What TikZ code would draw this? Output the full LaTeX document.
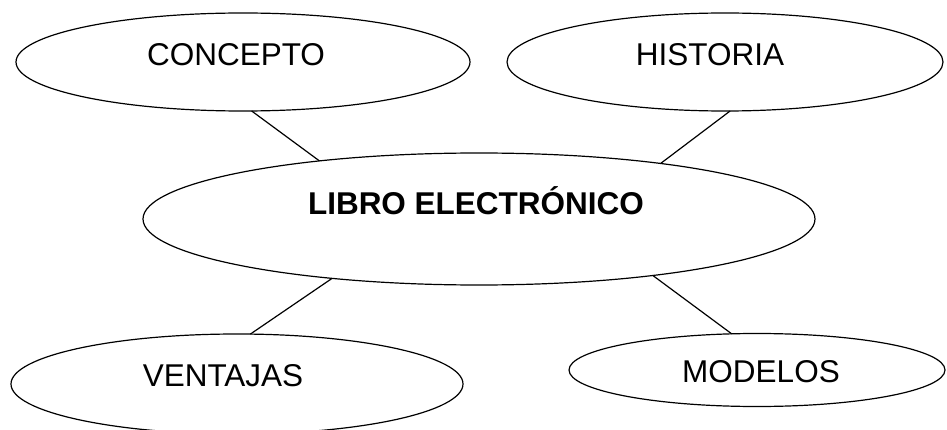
\documentclass[tikz,border=0pt]{standalone}
\usepackage{fontspec}
\setmainfont{Liberation Sans}
\usetikzlibrary{shapes.geometric}
\tikzset{
  topic/.style={draw, ellipse, line width=0.6pt, inner sep=0pt, outer sep=0pt},
  tag/.style={font=\fontsize{15.75}{18}\selectfont, text height=11.3pt, text depth=0pt, inner sep=0pt},
  link/.style={line width=0.6pt},
}
\begin{document}
\begin{tikzpicture}[x=1pt,y=1pt]
  \useasboundingbox (0,0) rectangle (473.5,214.5);
  % central topic
  \node[topic, minimum width=336pt, minimum height=66pt,
        label={[tag, xshift=-1.5pt, yshift=8pt]center:{\bfseries LIBRO ELECTRÓNICO}}] (libro) at (239.5,105) {};
  % upper row
  \node[topic, minimum width=227pt, minimum height=49pt,
        label={[tag, xshift=-3.5pt, yshift=4pt]center:CONCEPTO}] (concepto) at (121.5,183.5) {};
  \node[topic, minimum width=218pt, minimum height=49pt,
        label={[tag, xshift=-7.5pt, yshift=4pt]center:HISTORIA}] (historia) at (362.5,183.5) {};
  % lower row
  \node[topic, minimum width=226pt, minimum height=50pt,
        label={[tag, xshift=-7pt, yshift=4.5pt]center:VENTAJAS}] (ventajas) at (118.5,22.5) {};
  \node[topic, minimum width=188pt, minimum height=36.5pt,
        label={[tag, xshift=2pt, yshift=-0.5pt]center:MODELOS}] (modelos) at (378.5,29.5) {};
  % connectors
  \draw[link] (concepto.-80) -- (libro.160);
  \draw[link] (historia.-84) -- (libro.17);
  \draw[link] (libro.-158) -- (ventajas.75);
  \draw[link] (libro.-18) -- (modelos.125);
\end{tikzpicture}
\end{document}
